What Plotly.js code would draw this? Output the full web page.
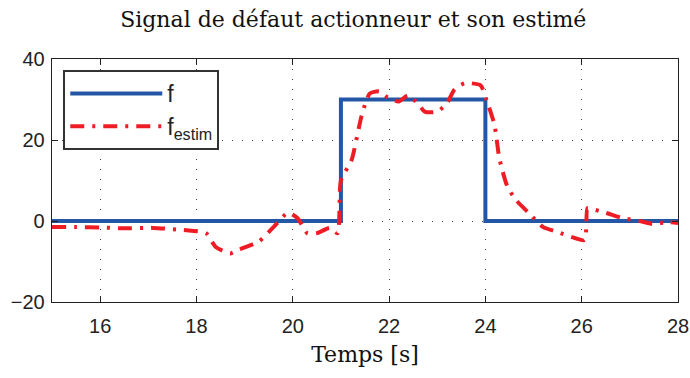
<!DOCTYPE html>
<html><head><meta charset="utf-8">
<script src="https://cdn.plot.ly/plotly-3.0.1.min.js"></script>
<style>body{margin:0;background:#fff}#c{width:690px;height:378px}</style>
</head><body><div id="c"></div>
<script>
const tF = [15, 21, 21, 24, 24, 28];
const f = [0, 0, 30, 30, 0, 0];
const tEst = [15, 15.5, 16, 16.5, 17.1, 17.6, 17.9, 18.2, 18.4, 18.7, 18.9, 19.3, 19.6, 19.9, 20.1, 20.3, 20.5, 20.77, 20.93, 21.0, 21.22, 21.43, 21.6, 21.8, 21.97, 22.2, 22.39, 22.6, 22.74, 23.0, 23.2, 23.36, 23.57, 23.9, 24.02, 24.19, 24.29, 24.46, 24.65, 24.9, 25.2, 25.5, 25.8, 26.06, 26.12, 26.2, 26.5, 26.85, 27.2, 27.47, 27.8, 28];
const fEst = [-1.5, -1.5, -1.6, -1.8, -1.7, -2.1, -2.4, -3, -6.4, -8, -7, -5, -1.5, 2, 0.7, -3, -3, -1.7, -3, 10, 15, 26, 31.5, 32, 30.5, 29.5, 31, 29, 27, 27, 29, 32.5, 34, 33.5, 30, 23.7, 15.5, 8.4, 5, 2, -1.5, -2.7, -4, -4.7, 3.2, 3, 2, 0.7, 0, -0.7, -0.3, -0.5];
const xTicks = [16, 18, 20, 22, 24, 26, 28];
const yTicks = [-20, 0, 20, 40];
const yTickText = ['\u221220', '0', '20', '40'];

const traces = [
  {x: tF, y: f, mode: 'lines', name: 'f', line: {color: '#2456a6', width: 4}},
  {x: tEst, y: fEst, mode: 'lines', name: 'f<sub>estim</sub>', line: {color: '#ee1c25', width: 4, dash: '14px,8px,3px,8px', shape: 'spline', smoothing: 0.6}}
];
const axCommon = {showline: true, mirror: 'ticks', linecolor: '#222', linewidth: 1.3, ticks: 'inside', ticklen: 6, tickcolor: '#222',
  showgrid: true, gridcolor: '#444', griddash: '1px,9px', gridwidth: 1, zeroline: false,
  tickfont: {family: 'Liberation Sans, Arial, sans-serif', size: 20, color: '#222'}};
const layout = {
  width: 690, height: 378,
  margin: {l: 52, r: 12, t: 59, b: 76},
  paper_bgcolor: '#fff', plot_bgcolor: '#fff',
  title: {text: 'Signal de défaut actionneur et son estimé', x: 0.512, xanchor: 'center', y: 0.95, yanchor: 'middle',
    font: {family: 'DejaVu Serif, serif', size: 22, color: '#111'}},
  xaxis: Object.assign({}, axCommon, {range: [15, 28], tickvals: xTicks, ticktext: xTicks.map(String), ticklabelstandoff: 6,
    title: {text: 'Temps [s]', font: {family: 'DejaVu Serif, serif', size: 22, color: '#111'}, standoff: 10}}),
  yaxis: Object.assign({}, axCommon, {range: [-20, 40], tickvals: yTicks, ticktext: yTickText, ticklabelstandoff: 2}),
  showlegend: true,
  legend: {x: 0.018, y: 0.955, xanchor: 'left', yanchor: 'top', bgcolor: '#fff', bordercolor: '#333', borderwidth: 2,
    font: {family: 'Liberation Sans, Arial, sans-serif', size: 23, color: '#222'}, itemwidth: 92, tracegroupgap: 20}
};
Plotly.newPlot('c', traces, layout, {displayModeBar: false, staticPlot: true});
</script></body></html>
